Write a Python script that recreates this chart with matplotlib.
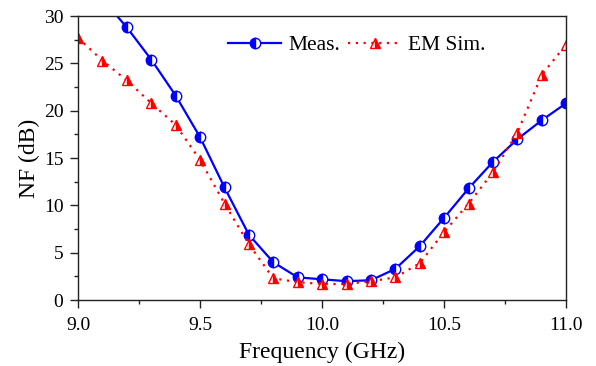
import matplotlib
matplotlib.use("Agg")
import matplotlib.pyplot as plt
from matplotlib.ticker import MultipleLocator, FormatStrFormatter

plt.rcParams['font.family'] = ['Liberation Serif', 'DejaVu Serif']

freq = [9.0, 9.1, 9.2, 9.3, 9.4, 9.5, 9.6, 9.7, 9.8, 9.9, 10.0,
        10.1, 10.2, 10.3, 10.4, 10.5, 10.6, 10.7, 10.8, 10.9, 11.0]
meas = [35.0, 31.8, 28.8, 25.4, 21.6, 17.2, 11.9, 6.9, 4.0, 2.4, 2.2,
        2.0, 2.1, 3.3, 5.7, 8.7, 11.8, 14.6, 17.0, 19.0, 20.8]
sim = [27.7, 25.3, 23.2, 20.8, 18.5, 14.8, 10.2, 5.9, 2.3, 1.9, 1.7,
       1.7, 2.0, 2.4, 3.9, 7.2, 10.2, 13.5, 17.7, 23.8, 27.0]

fig = plt.figure(figsize=(5.96, 3.66), dpi=100)
ax = fig.add_axes([0.131, 0.180, 0.819, 0.776])

ax.plot(freq, meas, color='blue', lw=1.6, marker='o', ms=7.5,
        fillstyle='left', markerfacecolor='blue', markerfacecoloralt='white',
        markeredgecolor='blue', markeredgewidth=1.0, label='Meas.')
ax.plot(freq, sim, color='red', lw=1.6, ls=(0, (1, 2.5)), marker='^', ms=7.5,
        fillstyle='right', markerfacecolor='red', markerfacecoloralt='white',
        markeredgecolor='red', markeredgewidth=1.0, label='EM Sim.')

ax.set_xlim(9.0, 11.0)
ax.set_ylim(0, 30)
ax.xaxis.set_major_locator(MultipleLocator(0.5))
ax.xaxis.set_minor_locator(MultipleLocator(0.25))
ax.yaxis.set_major_locator(MultipleLocator(5))
ax.yaxis.set_minor_locator(MultipleLocator(2.5))
ax.tick_params(which='both', direction='out', top=False, right=False,
               labelsize=14, color='#222222')
ax.tick_params(which='major', length=6, width=1)
ax.tick_params(which='minor', length=3, width=1)
ax.tick_params(axis='x', which='major', pad=6.5)
ax.tick_params(axis='y', which='major', pad=4.5)
ax.xaxis.set_major_formatter(FormatStrFormatter('%.1f'))
for s in ax.spines.values():
    s.set_linewidth(1.0)
    s.set_color('#222222')

ax.set_xlabel('Frequency (GHz)', fontsize=17, labelpad=5)
ax.set_ylabel('NF (dB)', fontsize=17, labelpad=3)

ax.legend(loc='upper left', ncol=2, frameon=False, fontsize=15.5,
          bbox_to_anchor=(0.290, 0.963), borderaxespad=0,
          handlelength=2.46, columnspacing=0.37, handletextpad=0.33)

fig.savefig('out.png', dpi=100)
